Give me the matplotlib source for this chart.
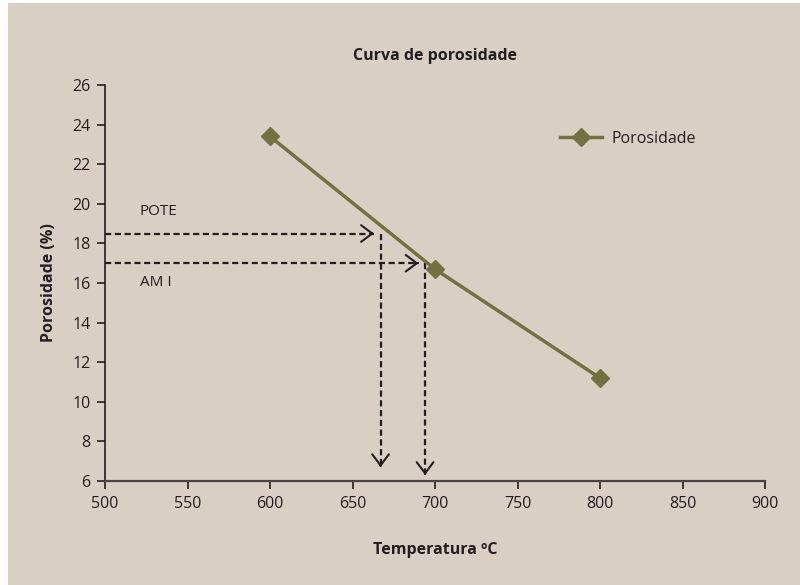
import matplotlib
matplotlib.use('Agg')
import matplotlib.pyplot as plt
from matplotlib.patches import Rectangle

# data
temperatura = [600, 700, 800]
porosidade = [23.4, 16.7, 11.2]

# guide lines: label, y level, arrow tip x, vertical x, arrow bottom y, label y
guias_nome = ['POTE', 'AM I']
guias_y = [18.5, 17.0]
guias_x_tip = [663, 690]
guias_x_vert = [667, 694]
guias_y_tip = [6.7, 6.3]
guias_txt_y = [19.6, 16.0]

xticks = [500, 550, 600, 650, 700, 750, 800, 850, 900]
yticks = [6, 8, 10, 12, 14, 16, 18, 20, 22, 24, 26]

fundo = '#d9cfc5'
verde = '#73713f'
escuro = '#231f20'

plt.rcParams['font.family'] = ['Open Sans', 'DejaVu Sans']

fig = plt.figure(figsize=(8, 5.85), dpi=100, facecolor='white')
fig.add_artist(Rectangle((8 / 800, 0), 1, 1 - 3 / 585, transform=fig.transFigure,
                         facecolor=fundo, edgecolor='none', zorder=-10))
ax = fig.add_axes([105 / 800, 1 - 481 / 585, 660 / 800, 396 / 585])
ax.set_facecolor('none')

ax.plot(temperatura, porosidade, color=verde, lw=2.5, marker='D', ms=9,
        label='Porosidade', zorder=3)

# dashed guide lines with solid open arrow heads
ponta = dict(arrowstyle='->,head_length=0.8,head_width=0.6', color=escuro, lw=1.5,
             shrinkA=0, shrinkB=0)
for nome, yv, xt, xv, yt, ty in zip(guias_nome, guias_y, guias_x_tip, guias_x_vert,
                                    guias_y_tip, guias_txt_y):
    ax.plot([500, xt], [yv, yv], color=escuro, lw=1.6, dashes=(2.8, 1.6), clip_on=False)
    ax.plot([xv, xv], [yv, yt], color=escuro, lw=1.6, dashes=(2.8, 1.6))
    ax.annotate('', xy=(xt, yv), xytext=(xt - 2, yv), arrowprops=ponta)
    ax.annotate('', xy=(xv, yt), xytext=(xv, yt + 0.1), arrowprops=ponta)
    ax.text(521, ty, nome, fontsize=11, color=escuro, va='center', ha='left')

ax.set_xlim(500, 900)
ax.set_ylim(6, 26)
ax.set_xticks(xticks)
ax.set_yticks(yticks)
ax.tick_params(labelsize=11.5, colors=escuro, length=6, width=1.2, direction='out', pad=4.5)
for s in ['top', 'right']:
    ax.spines[s].set_visible(False)
ax.spines['left'].set_color(escuro)
ax.spines['bottom'].set_color('#4a4545')
ax.spines['left'].set_linewidth(1.2)
ax.spines['bottom'].set_linewidth(1.6)

ax.set_title('Curva de porosidade', fontsize=11.5, fontweight='bold', color=escuro, pad=18)
ax.set_xlabel('Temperatura ºC', fontsize=11.5, fontweight='bold', color=escuro, labelpad=22)
ax.set_ylabel('Porosidade (%)', fontsize=11.5, fontweight='bold', color=escuro, labelpad=11)

leg = ax.legend(loc='upper left', bbox_to_anchor=(0.68, 0.9), frameon=False,
                fontsize=11.5, handlelength=2.6, handletextpad=0.6, borderaxespad=0)
for t in leg.get_texts():
    t.set_color(escuro)

fig.savefig('out.png', dpi=100, facecolor=fig.get_facecolor())
